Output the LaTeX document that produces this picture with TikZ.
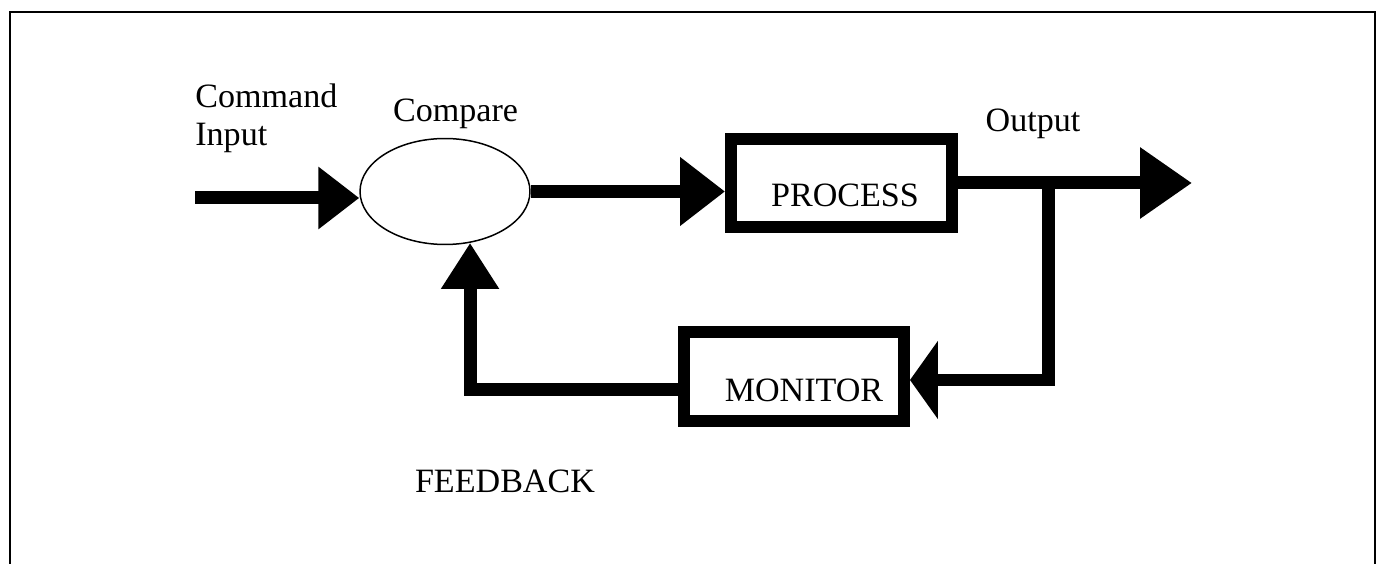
\documentclass[tikz,border=0pt]{standalone}
\usepackage{fontspec}
\setmainfont{Liberation Serif}
\usetikzlibrary{
arrows.meta,
calc,
positioning,
shapes.geometric
}
\tikzset{>=latex}

\begin{document}
\begin{tikzpicture}[x=0.02cm, y=-0.02cm, font=\fontsize{19.4}{21.5}\selectfont,
	block/.style={draw, line width=0.24cm, inner sep=0pt},
	flow/.style={line width=0.26cm},
	lbl/.style={inner sep=0pt, anchor=base}]
		\useasboundingbox (0,0) rectangle (1377,564);
		% open frame
		\draw[line width=0.05cm] (10,564) -- (10,12) -- (1375,12) -- (1375,564);

		\node[draw, ellipse, line width=0.03cm, inner sep=0pt, minimum width=3.4cm, minimum height=2.12cm] (compare) at (445,191.5) {};
		\node[block, minimum width=4.42cm, minimum height=1.76cm] (process) at (841.5,183) {};
		\node[block, minimum width=4.4cm, minimum height=1.78cm] (monitor) at (794,376.5) {};

		\node[lbl] (processlbl) at ([xshift=0.07cm,yshift=0.52cm]process.south) {PROCESS};
		\node[lbl] (monitorlbl) at ([xshift=0.2cm,yshift=0.5cm]monitor.south) {MONITOR};

		\node[inner sep=0pt, anchor=north west, align=left] (cmdlbl) at (195,84) {Command\\Input};
		\node[lbl] (comparelbl) at (455.5,122) {Compare};
		\node[lbl] (outputlbl) at (1033,132) {Output};
		\node[lbl] (feedbacklbl) at (505,492) {FEEDBACK};

		\coordinate (cmdin) at (195,198);
		\coordinate (output) at (1192,183);
		\coordinate (branch) at (1048,183);

		\draw[flow, -{Triangle[length=0.82cm, width=1.2cm]}] (cmdin) -- (compare.west |- cmdin);
		\draw[flow, -{Triangle[length=0.9cm, width=1.32cm]}] (compare.east) -- (compare.east -| process.west);
		\draw[flow, -{Triangle[length=1.04cm, width=1.36cm]}] (process.east) -- (output);
		\draw[flow, -{Triangle[length=0.56cm, width=1.54cm]}] (branch) |- ([yshift=-0.07cm]monitor.east);
		\draw[flow, -{Triangle[length=0.92cm, width=1.1cm]}] ([yshift=-0.27cm]monitor.west) -| (compare.296);
	\end{tikzpicture}
\end{document}
